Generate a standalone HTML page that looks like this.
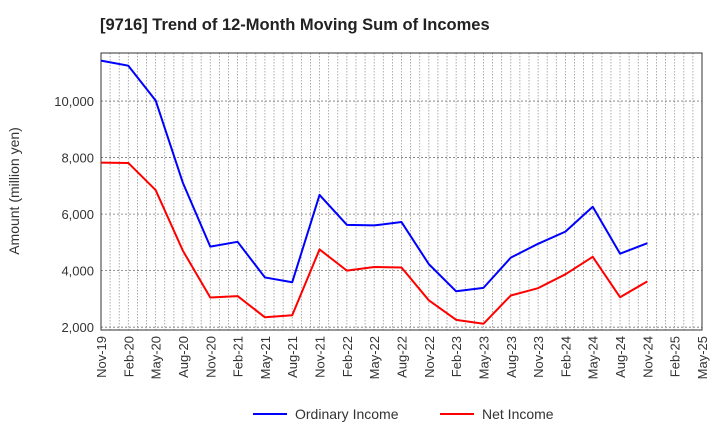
<!DOCTYPE html>
<html><head><meta charset="utf-8"><style>
body{margin:0;background:#fff;font-family:"Liberation Sans",Arial,sans-serif}
</style></head><body>
<svg id="c" width="720" height="440" xmlns="http://www.w3.org/2000/svg">
<text x="100" y="30" font-size="16.5" font-weight="bold" fill="#222">[9716]  Trend of 12-Month Moving Sum of Incomes</text>
<g id="grid"></g><g id="axes"></g><g id="series"></g>
<text transform="translate(19,191) rotate(-90)" text-anchor="middle" font-size="14" fill="#333">Amount (million yen)</text>
<g>
<line x1="253" y1="414" x2="287" y2="414" stroke="#0000ff" stroke-width="2"/>
<text x="295" y="419" font-size="14" fill="#333">Ordinary Income</text>
<line x1="440" y1="414" x2="474" y2="414" stroke="#ff0000" stroke-width="2"/>
<text x="482" y="419" font-size="14" fill="#333">Net Income</text>
</g>
</svg>
<script>
const categories=["Nov-19","Feb-20","May-20","Aug-20","Nov-20","Feb-21","May-21","Aug-21","Nov-21","Feb-22","May-22","Aug-22","Nov-22","Feb-23","May-23","Aug-23","Nov-23","Feb-24","May-24","Aug-24","Nov-24","Feb-25","May-25"];
const ordinaryIncome=[11430,11250,10020,7100,4850,5020,3760,3590,6680,5620,5600,5720,4230,3270,3390,4460,4950,5380,6260,4600,4970];
const netIncome=[7820,7810,6850,4700,3050,3100,2350,2420,4750,4000,4130,4110,2950,2260,2120,3120,3380,3870,4490,3060,3620];
const yTicks=[2000,4000,6000,8000,10000];
const L=101,R=702,T=53,B=330,yMin=1900,yMax=11700;
const NS="http://www.w3.org/2000/svg";
const xs=i=>L+(R-L)*i/(categories.length-1);
const ys=v=>B-(v-yMin)/(yMax-yMin)*(B-T);
function mk(t,a,p){const e=document.createElementNS(NS,t);for(const k in a)e.setAttribute(k,a[k]);p.appendChild(e);return e;}
const grid=document.getElementById('grid'),axes=document.getElementById('axes'),ser=document.getElementById('series');
const nMonths=(categories.length-1)*3;
for(let m=1;m<nMonths;m++){const x=L+(R-L)*m/nMonths;const g=mk('line',{x1:x,x2:x,y1:T,y2:B,stroke:'#999','stroke-width':0.8,'stroke-dasharray':'1.5,1.5'},grid);

}
yTicks.forEach(v=>{const y=ys(v);const g=mk('line',{x1:L,x2:R,y1:y,y2:y,stroke:'#777','stroke-width':0.8,'stroke-dasharray':'2,2'},grid);


const t=mk('text',{x:L-7,y:y+5,'text-anchor':'end','font-size':13,fill:'#333'},axes);t.textContent=v.toLocaleString('en-US');

});
const fr=mk('rect',{x:L,y:T,width:R-L,height:B-T,fill:'none',stroke:'#333','stroke-width':1},axes);


categories.forEach((c,i)=>{const x=xs(i);const t=mk('text',{transform:`translate(${x+5},${B+6}) rotate(-90)`,'text-anchor':'end','font-size':13,fill:'#333'},axes);t.textContent=c;

});
function line(d,col,name){const p=mk('polyline',{points:d.map((v,i)=>xs(i)+','+ys(v)).join(' '),fill:'none',stroke:col,'stroke-width':2,'stroke-linejoin':'round'},ser);

}
line(ordinaryIncome,'#0000ff','ordinary-income-line');
line(netIncome,'#ff0000','net-income-line');
</script>
</body></html>
